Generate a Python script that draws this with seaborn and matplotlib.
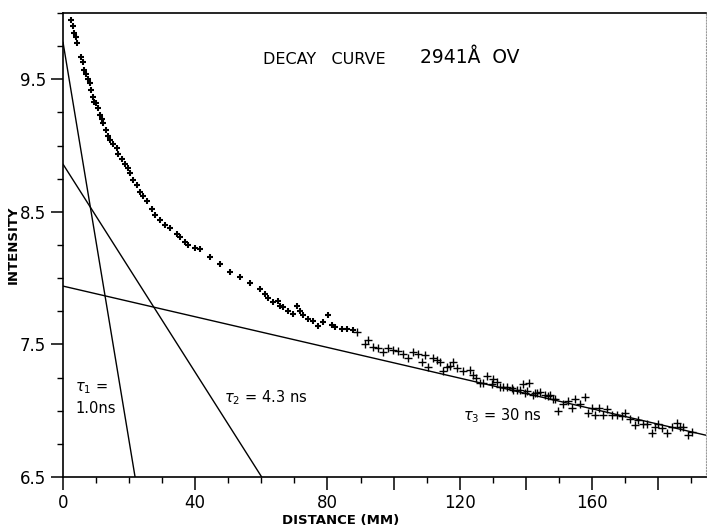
import numpy as np
import pandas as pd
import matplotlib
matplotlib.use("Agg")
import matplotlib.pyplot as plt
import seaborn as sns
from matplotlib.ticker import FixedLocator, MultipleLocator, FuncFormatter

# ---- data ----
early_x = [2.33, 2.93, 3.33, 3.84, 4.33, 5.35, 5.96, 6.35, 6.96, 7.65, 8.17, 8.47, 8.98, 9.47,
           9.98, 10.68, 11.19, 11.71, 12.19, 13.0, 13.7, 14.2, 15.1, 16.3, 16.6, 17.8, 18.8,
           19.7, 20.3, 21.3, 22.3, 23.3, 24.3, 25.3, 26.8, 27.8, 29.3, 30.9, 32.4, 34.4, 35.4,
           36.9, 37.9, 39.9, 41.4, 44.5, 47.5, 50.5, 53.5, 56.6, 59.6, 61.1, 62.0, 63.5, 65.0,
           65.6, 66.5, 68.1, 69.6, 70.7, 71.7, 72.6, 74.1, 75.6, 77.1, 78.6, 80.2, 81.3, 82.3,
           84.3, 85.8, 87.7]
early_y = [9.95, 9.90, 9.85, 9.82, 9.77, 9.67, 9.63, 9.57, 9.54, 9.50, 9.47, 9.42, 9.37, 9.33,
           9.32, 9.28, 9.23, 9.20, 9.17, 9.12, 9.07, 9.04, 9.01, 8.98, 8.94, 8.90, 8.86,
           8.83, 8.79, 8.74, 8.70, 8.65, 8.62, 8.58, 8.52, 8.48, 8.44, 8.40, 8.38, 8.33, 8.31,
           8.27, 8.25, 8.23, 8.22, 8.16, 8.11, 8.05, 8.01, 7.96, 7.92, 7.88, 7.85, 7.82, 7.83,
           7.79, 7.78, 7.75, 7.73, 7.79, 7.75, 7.72, 7.69, 7.68, 7.64, 7.67, 7.72, 7.65, 7.63,
           7.62, 7.62, 7.61]

late_x = [88.8, 91.3, 92.3, 93.9, 95.4, 96.9, 98.4, 99.9, 101.4, 102.9, 104.4, 106.0, 107.5,
          108.5, 109.5, 110.5, 112.0, 113.0, 114.0, 115.0, 116.1, 117.1, 118.1, 119.1, 121.1,
          123.1, 124.1, 124.8, 126.1, 127.1, 128.2, 129.7, 130.2, 131.2, 132.2, 133.2, 134.2,
          135.7, 136.2, 137.2, 138.2, 139.0, 139.7, 140.3, 141.0, 142.3, 142.8, 143.3, 144.3,
          145.8, 146.8, 147.3, 148.3, 148.8, 149.8, 151.3, 152.8, 153.9, 154.9, 156.4, 157.9,
          158.9, 159.9, 160.9, 162.2, 163.4, 164.5, 166.0, 167.5, 169.0, 170.0, 171.5, 173.0,
          174.0, 175.5, 176.6, 178.1, 179.1, 180.1, 181.1, 182.6, 184.1, 185.6, 186.6, 187.6,
          189.1, 190.2]
late_y = [7.59, 7.50, 7.53, 7.48, 7.47, 7.44, 7.47, 7.46, 7.45, 7.43, 7.40, 7.44, 7.43,
          7.37, 7.42, 7.33, 7.40, 7.38, 7.37, 7.30, 7.33, 7.34, 7.37, 7.32, 7.30,
          7.31, 7.27, 7.25, 7.21, 7.21, 7.26, 7.20, 7.24, 7.22, 7.18, 7.18, 7.18,
          7.17, 7.16, 7.16, 7.16, 7.20, 7.13, 7.15, 7.21, 7.12, 7.13, 7.13, 7.14,
          7.12, 7.11, 7.12, 7.09, 7.09, 7.00, 7.05, 7.07, 7.02, 7.09, 7.05, 7.10,
          6.98, 7.02, 6.97, 7.02, 6.97, 7.01, 6.97, 6.97, 6.96, 6.98, 6.94, 6.89,
          6.93, 6.90, 6.90, 6.83, 6.88, 6.90, 6.87, 6.83, 6.88, 6.91, 6.88, 6.88,
          6.82, 6.84]

# fitted components (end points)
tau1_x = [0.0, 21.8]
tau1_y = [9.78, 6.50]
tau2_x = [0.0, 60.1]
tau2_y = [8.86, 6.50]
tau3_x = [0.0, 194.5]
tau3_y = [7.94, 6.815]

x_major = [0, 40, 80, 100, 120, 140, 160, 180]
x_labels = [0, 40, 80, 120, 160]
y_labels = [6.5, 7.5, 8.5, 9.5]

# ---- plotting ----
sns.set_style("white")
plt.rcParams['font.family'] = ['DejaVu Sans']
plt.rcParams['text.color'] = 'black'
plt.rcParams['axes.labelcolor'] = 'black'
plt.rcParams['xtick.color'] = 'black'
plt.rcParams['ytick.color'] = 'black'

fig = plt.figure(figsize=(7.07, 5.31), dpi=100)
ax = fig.add_axes([63/707, 1 - 477/531, (706 - 63)/707, (477 - 13)/531])

for lx, ly in [(tau1_x, tau1_y), (tau2_x, tau2_y), (tau3_x, tau3_y)]:
    sns.lineplot(x=lx, y=ly, ax=ax, color="black", linewidth=1.0, sort=False)

sns.scatterplot(x=early_x, y=early_y, ax=ax, marker="+", s=13, color="black",
                linewidth=1.5, zorder=3)
sns.scatterplot(x=late_x, y=late_y, ax=ax, marker="+", s=38, color="black",
                linewidth=1.0, zorder=3)

ax.set_xlim(0, 194.5)
ax.set_ylim(6.5, 10.0)

ax.xaxis.set_major_locator(FixedLocator(x_major))
ax.xaxis.set_minor_locator(MultipleLocator(10))
ax.xaxis.set_major_formatter(FuncFormatter(
    lambda v, p: f"{int(round(v))}" if int(round(v)) in x_labels else ""))
ax.yaxis.set_major_locator(FixedLocator(y_labels))
ax.yaxis.set_minor_locator(MultipleLocator(0.25))
ax.yaxis.set_major_formatter(FuncFormatter(lambda v, p: f"{v:.1f}"))

ax.tick_params(which="major", direction="out", length=9, width=1.1, color="black",
               labelcolor="black", labelsize=12, pad=3, bottom=True, left=True)
ax.tick_params(which="minor", direction="out", length=4, width=1.0, color="black",
               bottom=True, left=True)

for side in ["left", "bottom", "top"]:
    ax.spines[side].set_color("black")
    ax.spines[side].set_linewidth(1.2)
ax.spines["right"].set_color("#999999")
ax.spines["right"].set_linestyle(":")
ax.spines["right"].set_linewidth(0.8)

ax.set_xlabel("DISTANCE (MM)", fontsize=9.5, fontweight="bold", color="black")
ax.set_ylabel("INTENSITY", fontsize=9.5, fontweight="bold", color="black")
ax.xaxis.set_label_coords(0.432, -0.080)
ax.yaxis.set_label_coords(-0.068, 0.5)

ax.text(60.5, 9.65, "DECAY   CURVE", fontsize=11.5, va="center", ha="left", color="black")
ax.text(108, 9.665, "2941Å  OV", fontsize=13.5, va="center", ha="left", color="black")

ax.text(3.6, 7.17, r"$\tau_1$ =", fontsize=10.5, va="center", ha="left", color="black")
ax.text(3.8, 7.02, "1.0ns", fontsize=10.5, va="center", ha="left", color="black")
ax.text(48.7, 7.10, r"$\tau_2$ = 4.3 ns", fontsize=10.5, va="center", ha="left", color="black")
ax.text(121.0, 6.965, r"$\tau_3$ = 30 ns", fontsize=10.5, va="center", ha="left", color="black")

fig.savefig("out.png", dpi=100)
